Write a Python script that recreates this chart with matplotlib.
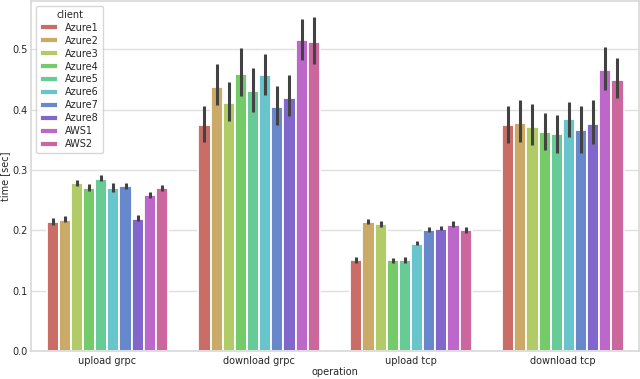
import matplotlib
matplotlib.use("Agg")
import matplotlib.pyplot as plt
import numpy as np
import seaborn as sns

operations = ["upload grpc", "download grpc", "upload tcp", "download tcp"]
clients = ["Azure1", "Azure2", "Azure3", "Azure4", "Azure5", "Azure6",
           "Azure7", "Azure8", "AWS1", "AWS2"]

# mean values, per client, across operations
means = {
    "Azure1": [0.214, 0.375, 0.150, 0.375],
    "Azure2": [0.217, 0.438, 0.213, 0.378],
    "Azure3": [0.278, 0.411, 0.211, 0.372],
    "Azure4": [0.270, 0.460, 0.150, 0.363],
    "Azure5": [0.285, 0.431, 0.150, 0.359],
    "Azure6": [0.270, 0.457, 0.178, 0.384],
    "Azure7": [0.273, 0.404, 0.201, 0.367],
    "Azure8": [0.219, 0.419, 0.203, 0.377],
    "AWS1":   [0.258, 0.516, 0.209, 0.466],
    "AWS2":   [0.270, 0.512, 0.200, 0.450],
}
ci_low = {
    "Azure1": [0.209, 0.347, 0.145, 0.345],
    "Azure2": [0.213, 0.408, 0.210, 0.346],
    "Azure3": [0.273, 0.382, 0.206, 0.341],
    "Azure4": [0.266, 0.422, 0.146, 0.334],
    "Azure5": [0.282, 0.396, 0.146, 0.328],
    "Azure6": [0.263, 0.425, 0.175, 0.355],
    "Azure7": [0.268, 0.374, 0.198, 0.329],
    "Azure8": [0.215, 0.389, 0.201, 0.343],
    "AWS1":   [0.254, 0.482, 0.205, 0.433],
    "AWS2":   [0.266, 0.475, 0.195, 0.420],
}
ci_high = {
    "Azure1": [0.221, 0.406, 0.156, 0.406],
    "Azure2": [0.223, 0.475, 0.218, 0.416],
    "Azure3": [0.284, 0.446, 0.216, 0.410],
    "Azure4": [0.276, 0.502, 0.154, 0.395],
    "Azure5": [0.292, 0.469, 0.156, 0.392],
    "Azure6": [0.278, 0.493, 0.183, 0.413],
    "Azure7": [0.278, 0.440, 0.205, 0.406],
    "Azure8": [0.226, 0.458, 0.208, 0.416],
    "AWS1":   [0.264, 0.551, 0.215, 0.504],
    "AWS2":   [0.275, 0.553, 0.206, 0.485],
}

sns.set_theme(style="whitegrid")
plt.rcParams['font.family'] = ['DejaVu Sans']

fig, ax = plt.subplots(figsize=(6.4, 3.79), dpi=100)
fig.subplots_adjust(left=0.049, right=0.998, top=0.997, bottom=0.074)

palette = sns.color_palette("hls", len(clients))
palette = [sns.desaturate(c, 0.75) for c in palette]

n = len(clients)
width = 0.8 / n
x = np.arange(len(operations))
for i, c in enumerate(clients):
    pos = x - 0.4 + width * (i + 0.5)
    ax.bar(pos, means[c], width=width, color=palette[i], edgecolor="white",
           linewidth=1.3, label=c, zorder=2)
    ax.vlines(pos, ci_low[c], ci_high[c], color=".26", linewidth=2.2, zorder=3)

ax.set_xticks(x)
ax.set_xticklabels(operations)
ax.set_xlim(-0.5, len(operations) - 0.5)
ax.set_ylim(0, 0.58)
ax.set_yticks([0.0, 0.1, 0.2, 0.3, 0.4, 0.5])
ax.grid(axis="x", visible=False)
ax.grid(axis="y", color=".88", linewidth=1)
ax.set_axisbelow(True)
for s in ax.spines.values():
    s.set_color(".85")
ax.tick_params(axis="y", labelsize=7, pad=2.5, length=0)
ax.tick_params(axis="x", labelsize=7, pad=3.5, length=0)
ax.set_xlabel("operation", fontsize=7, labelpad=1)
ax.set_ylabel("time [sec]", fontsize=7, labelpad=1.5)
leg = ax.legend(title="client", loc="upper left", fontsize=7, title_fontsize=7,
                handlelength=1.8, handleheight=0.6, labelspacing=0.3,
                borderpad=0.4, frameon=True, borderaxespad=0.5)
fig.savefig("out.png", dpi=100)
